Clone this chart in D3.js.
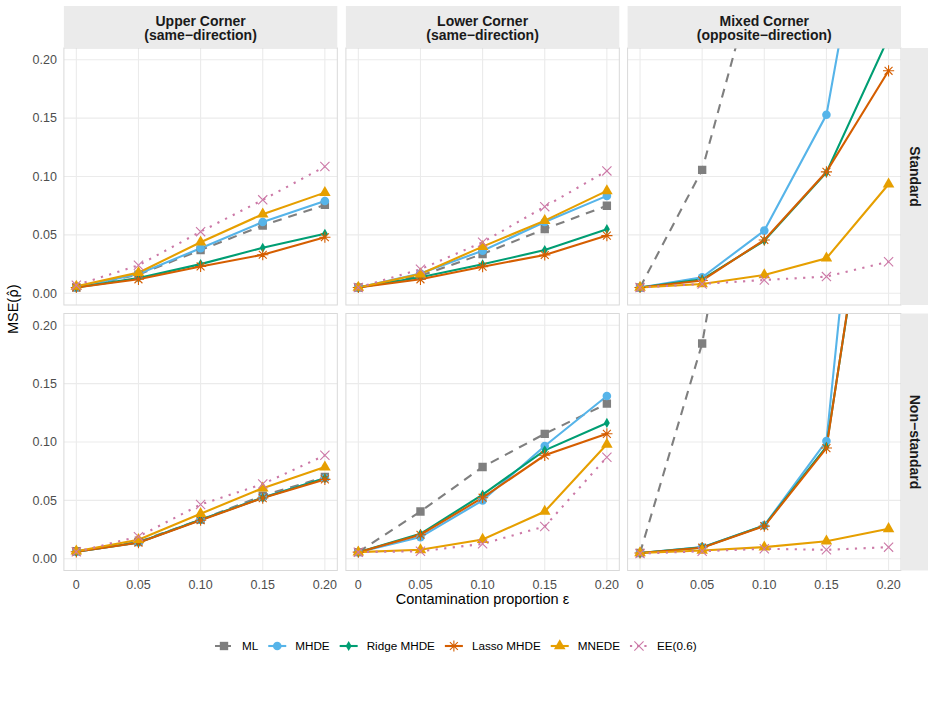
<!DOCTYPE html>
<html><head><meta charset="utf-8">
<script src="https://cdn.jsdelivr.net/npm/d3@7"></script>
<style>body{margin:0;background:#fff}svg{display:block;font-family:"Liberation Sans",Arial,sans-serif}</style>
</head><body>
<svg id="chart" width="933" height="706"></svg>
<script>
// ---------- data ----------
const epsilon = [0, 0.05, 0.10, 0.15, 0.20];
const xTickLabels = ["0", "0.05", "0.10", "0.15", "0.20"];
const yTicks = [0, 0.05, 0.10, 0.15, 0.20];
const yTickLabels = ["0.00", "0.05", "0.10", "0.15", "0.20"];
const colLabels = [["Upper Corner", "(same\u2212direction)"], ["Lower Corner", "(same\u2212direction)"], ["Mixed Corner", "(opposite\u2212direction)"]];
const rowLabels = ["Standard", "Non\u2212standard"];
const methods = ["ML", "MHDE", "Ridge MHDE", "Lasso MHDE", "MNEDE", "EE(0.6)"];
// panel order: Upper/Std, Lower/Std, Mixed/Std, Upper/Non-std, Lower/Non-std, Mixed/Non-std
const ML = [
  [0.005, 0.016, 0.037, 0.058, 0.0757],
  [0.005, 0.015, 0.0337, 0.055, 0.075],
  [0.005, 0.1057, 0.30, 0.50, 0.70],
  [0.0065, 0.0145, 0.0336, 0.054, 0.070],
  [0.0057, 0.0405, 0.0786, 0.107, 0.1328],
  [0.005, 0.1843, 0.49, 0.80, 1.10]
];
const MHDE = [
  [0.005, 0.0165, 0.0386, 0.061, 0.079],
  [0.005, 0.017, 0.0365, 0.061, 0.0834],
  [0.005, 0.0137, 0.0537, 0.1528, 0.448],
  [0.006, 0.014, 0.0334, 0.0525, 0.069],
  [0.0057, 0.0186, 0.050, 0.0966, 0.1394],
  [0.005, 0.010, 0.0286, 0.1008, 0.62]
];
const RidgeMHDE = [
  [0.005, 0.013, 0.025, 0.039, 0.051],
  [0.005, 0.0137, 0.0249, 0.037, 0.0549],
  [0.005, 0.012, 0.045, 0.1034, 0.219],
  [0.006, 0.014, 0.0334, 0.0523, 0.069],
  [0.0057, 0.0214, 0.0549, 0.0929, 0.1163],
  [0.005, 0.0098, 0.0285, 0.096, 0.44]
];
const LassoMHDE = [
  [0.005, 0.012, 0.023, 0.033, 0.048],
  [0.005, 0.012, 0.0228, 0.0328, 0.0494],
  [0.005, 0.011, 0.0457, 0.104, 0.1905],
  [0.006, 0.0138, 0.033, 0.052, 0.068],
  [0.0057, 0.0206, 0.0523, 0.0886, 0.107],
  [0.005, 0.0095, 0.028, 0.0948, 0.445]
];
const MNEDE = [
  [0.006, 0.0177, 0.0437, 0.0677, 0.0862],
  [0.005, 0.0165, 0.040, 0.0622, 0.0877],
  [0.005, 0.008, 0.0157, 0.030, 0.0934],
  [0.0065, 0.0163, 0.0386, 0.0605, 0.0785],
  [0.0057, 0.0077, 0.0165, 0.0405, 0.098],
  [0.005, 0.0071, 0.010, 0.0151, 0.0257]
];
const EE06 = [
  [0.007, 0.024, 0.0528, 0.080, 0.1085],
  [0.005, 0.0206, 0.0437, 0.0742, 0.1048],
  [0.005, 0.008, 0.0114, 0.0143, 0.027],
  [0.006, 0.019, 0.0465, 0.064, 0.0886],
  [0.0057, 0.0065, 0.0128, 0.0277, 0.087],
  [0.0045, 0.0065, 0.0086, 0.0077, 0.010]
];
const seriesValues = [ML, MHDE, RidgeMHDE, LassoMHDE, MNEDE, EE06];

// ---------- styles ----------
const colors = ["#7F7F7F", "#56B4E9", "#009E73", "#D55E00", "#E69F00", "#CC79A7"];
const dashes = ["9,7", null, null, null, null, "2.2,6.4"];
const shapes = ["square", "circle", "diamond", "asterisk", "triangle", "cross"];

// ---------- layout ----------
const svg = d3.select("#chart");
const colX = [63.9, 345.9, 627.6];
const rowY = [48, 313.5];
const pw = 273.4, ph = 257;
const x = d3.scaleLinear().domain([-0.01, 0.21]).range([0, pw]);
const y = d3.scaleLinear().domain([-0.01, 0.21]).range([ph, 0]);

function symbolPath(shape) {
  switch (shape) {
    case "square": return d3.symbol(d3.symbolSquare, 70)();
    case "circle": return d3.symbol(d3.symbolCircle, 58)();
    case "diamond": return d3.symbol(d3.symbolDiamond, 30)();
    case "triangle": return d3.symbol(d3.symbolTriangle, 58)();
    case "asterisk": {
      const r = 5.6, a = r * Math.SQRT1_2;
      return `M${-r},0L${r},0M0,${-r}L0,${r}M${-a},${-a}L${a},${a}M${-a},${a}L${a},${-a}`;
    }
    case "cross": {
      const a = 4.6;
      return `M${-a},${-a}L${a},${a}M${-a},${a}L${a},${-a}`;
    }
  }
}
function drawSymbol(g, shape, color, cx, cy) {
  const stroked = shape === "asterisk" || shape === "cross";
  g.append("path").attr("d", symbolPath(shape))
    .attr("transform", `translate(${cx},${cy})`)
    .attr("fill", stroked ? "none" : color)
    .attr("stroke", stroked ? color : "none")
    .attr("stroke-width", stroked ? 1.1 : 0);
}

const defs = svg.append("defs");
defs.append("clipPath").attr("id", "pclip").append("rect")
  .attr("x", 0).attr("y", 0).attr("width", pw).attr("height", ph);

for (let r = 0; r < 2; r++) {
  for (let c = 0; c < 3; c++) {
    const pi = r * 3 + c;
    const g = svg.append("g").attr("transform", `translate(${colX[c]},${rowY[r]})`);
    // grid
    g.selectAll(".gy").data(yTicks).enter().append("line")
      .attr("x1", 0).attr("x2", pw).attr("y1", d => y(d)).attr("y2", d => y(d))
      .attr("stroke", "#EBEBEB").attr("stroke-width", 1.1);
    g.selectAll(".gx").data(epsilon).enter().append("line")
      .attr("y1", 0).attr("y2", ph).attr("x1", d => x(d)).attr("x2", d => x(d))
      .attr("stroke", "#EBEBEB").attr("stroke-width", 1.1);
    const inner = g.append("g").attr("clip-path", "url(#pclip)");
    // lines
    seriesValues.forEach((vals, m) => {
      const line = d3.line().x((d, i) => x(epsilon[i])).y(d => y(d));
      inner.append("path").datum(vals[pi]).attr("d", line)
        .attr("fill", "none").attr("stroke", colors[m]).attr("stroke-width", 2.1)
        .attr("stroke-dasharray", dashes[m]);
    });
    // points
    seriesValues.forEach((vals, m) => {
      vals[pi].forEach((v, i) => drawSymbol(inner, shapes[m], colors[m], x(epsilon[i]), y(v)));
    });
    // border
    g.append("rect").attr("x", 0).attr("y", 0).attr("width", pw).attr("height", ph)
      .attr("fill", "none").attr("stroke", "#D9D9D9").attr("stroke-width", 1);
    // y tick labels
    if (c === 0) {
      yTicks.forEach((t, i) => g.append("text").attr("x", -7).attr("y", y(t)).attr("dy", "0.35em")
        .attr("text-anchor", "end").attr("font-size", 12.5).attr("fill", "#4D4D4D").text(yTickLabels[i]));
    }
    // x tick labels
    if (r === 1) {
      epsilon.forEach((t, i) => g.append("text").attr("x", x(t)).attr("y", ph + 18)
        .attr("text-anchor", "middle").attr("font-size", 12.5).attr("fill", "#4D4D4D").text(xTickLabels[i]));
    }
    // top strip
    if (r === 0) {
      const s = svg.append("g").attr("transform", `translate(${colX[c]},6)`);
      s.append("rect").attr("width", pw).attr("height", rowY[0] - 6).attr("fill", "#EBEBEB");
      const t = s.append("text").attr("text-anchor", "middle").attr("font-size", 14)
        .attr("font-weight", "bold").attr("fill", "#1A1A1A");
      t.append("tspan").attr("x", pw / 2).attr("y", 19.5).text(colLabels[c][0]);
      t.append("tspan").attr("x", pw / 2).attr("y", 34).text(colLabels[c][1]);
    }
    // right strip
    if (c === 2) {
      const sx = colX[2] + pw;
      svg.append("rect").attr("x", sx).attr("y", rowY[r]).attr("width", 27).attr("height", ph).attr("fill", "#EBEBEB");
      svg.append("text").attr("transform", `translate(${sx + 13.5},${rowY[r] + ph / 2}) rotate(90)`)
        .attr("text-anchor", "middle").attr("dy", "0.35em").attr("font-size", 14)
        .attr("font-weight", "bold").attr("fill", "#1A1A1A").text(rowLabels[r]);
    }
  }
}

// axis titles
svg.append("text").attr("x", (colX[0] + colX[2] + pw) / 2).attr("y", 604)
  .attr("text-anchor", "middle").attr("font-size", 14.5).attr("fill", "#000")
  .text("Contamination proportion \u03B5");
const yt = svg.append("text").attr("transform", `translate(18,${(rowY[0] + rowY[1] + ph) / 2}) rotate(-90)`)
  .attr("text-anchor", "middle").attr("font-size", 14.5).attr("fill", "#000");
yt.append("tspan").text("MSE(");
yt.append("tspan").attr("font-family", "DejaVu Sans").attr("font-size", 13.5).text("\u03C1\u0302");
yt.append("tspan").text(")");

// legend
const lg = svg.append("g").attr("transform", "translate(0,646)");
let lx = 215;
methods.forEach((name, m) => {
  lg.append("line").attr("x1", lx).attr("x2", lx + 18).attr("y1", 0).attr("y2", 0)
    .attr("stroke", colors[m]).attr("stroke-width", 2.1).attr("stroke-dasharray", dashes[m] ? (m === 0 ? "6,4" : "2.2,5") : null);
  drawSymbol(lg, shapes[m], colors[m], lx + 9, 0);
  const t = lg.append("text").attr("x", lx + 27).attr("y", 0).attr("dy", "0.35em")
    .attr("font-size", 11.7).attr("fill", "#000").text(name);
  lx = lx + 27 + t.node().getComputedTextLength() + 10;
});
</script>
</body></html>
